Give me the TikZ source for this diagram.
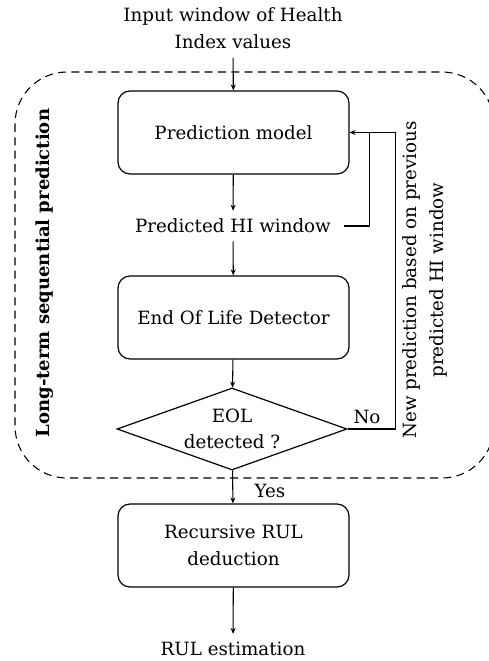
\documentclass[tikz,border=0pt]{standalone}
\usepackage{fontspec}
\setmainfont{DejaVu Serif}
\usetikzlibrary{shapes.geometric,arrows.meta}
\begin{document}
\begin{tikzpicture}[x=0.75pt,y=-0.75pt,
  txt/.style={font=\fontsize{13.7}{20}\selectfont, align=center, inner sep=0pt},
  procbox/.style={draw, line width=0.9pt, rounded corners=9pt, minimum width=173.25pt, minimum height=62.25pt, txt},
  decbox/.style={draw, diamond, line width=0.9pt, minimum width=172.5pt, minimum height=61.5pt, aspect=2.8, inner sep=0pt, txt},
  conn/.style={line width=0.8pt, -{Stealth[length=4.5pt,width=3.8pt]}},
  plainline/.style={line width=0.8pt},
  region/.style={draw, dash pattern=on 6pt off 4pt, line width=0.8pt, rounded corners=39pt}
]
\useasboundingbox (0,0) rectangle (489,661);
\draw[region] (15,72) rectangle (494,478);

\node[txt, inner ysep=6.5pt] (inp) at (233,28.5) {Input window of Health\\Index values};
\node[procbox] (pm) at (233.5,132.5) {Prediction model};
\node[txt, inner xsep=9.5pt, inner ysep=6pt] (pht) at (233,226) {Predicted HI window};
\node[procbox] (det) at (233.5,317.5) {End Of Life Detector};
\node[decbox] (dec) at (232,429) {EOL\\detected ?};
\node[procbox] (rec) at (233.5,545.5) {Recursive RUL\\deduction};
\node[txt, inner ysep=6pt] (rul) at (233,649) {RUL estimation};

\node[txt] (yes) at (270,491) {Yes};
\node[txt] (no) at (367,417) {No};
\node[txt, font=\fontsize{13.5}{20}\selectfont\bfseries, rotate=90] (lab) at (45,273) {Long-term sequential prediction};
\node[txt, rotate=90] (newp) at (425,280) {New prediction based on previous\\predicted HI window};

\path (pm.east) ++(20,0) coordinate (fbA) ++(26,0) coordinate (fbB);

\draw[conn] (inp) -- (pm);
\draw[conn] (pm) -- (pht);
\draw[conn] (pht) -- (det);
\draw[conn] (det) -- (dec);
\draw[conn] (dec) -- (rec);
\draw[conn] (rec) -- (rul);
\draw[plainline] (pht.east) -| (fbA);
\draw[plainline] (dec.east) -| (fbB) -- (fbA);
\draw[conn] (fbA) -- (pm.east);
\end{tikzpicture}
\end{document}
